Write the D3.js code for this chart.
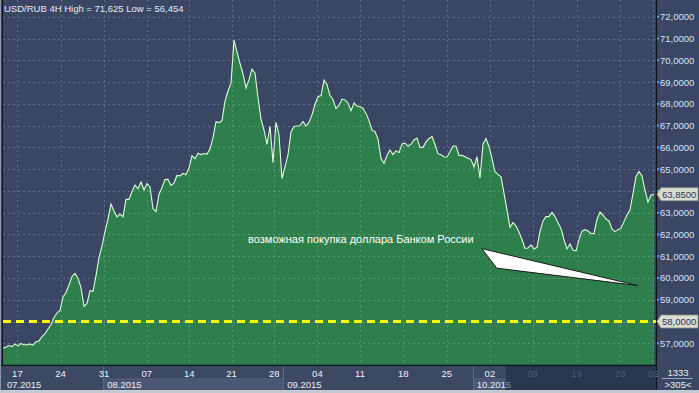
<!DOCTYPE html>
<html><head><meta charset="utf-8">
<script src="https://cdn.jsdelivr.net/npm/d3@7"></script>
<style>html,body{margin:0;padding:0;background:#3a4663;overflow:hidden}</style>
</head><body>
<svg id="chart" width="699" height="393"></svg>
<script>
// ---- data (USD/RUB, 4H, sampled every 2 bars) ----
const prices = [
56.77,56.83,56.90,56.85,56.97,56.88,56.99,56.92,56.94,56.97,56.92,57.07,57.11,57.31,57.44,57.66,57.86,58.19,58.39,58.51,
59.13,59.33,59.68,60.07,60.21,59.98,59.56,58.70,58.83,59.43,59.38,60.11,60.94,61.47,62.13,62.71,63.40,63.08,62.81,62.94,
62.82,63.61,63.61,63.97,64.27,64.10,64.41,64.04,64.34,64.18,63.19,63.05,63.85,64.16,64.52,64.53,64.25,64.36,64.71,64.69,
64.80,64.75,65.05,65.62,65.47,65.73,65.67,65.72,65.69,65.92,66.44,67.18,67.14,67.23,68.12,68.59,68.95,70.93,70.38,69.86,
69.37,68.73,69.11,69.59,69.42,68.29,67.30,66.80,66.14,66.97,65.30,67.15,66.58,64.57,65.11,65.65,66.71,66.96,66.98,66.99,
67.19,66.98,67.15,67.49,67.98,68.33,68.38,69.09,68.89,68.38,68.19,67.79,67.93,68.22,68.18,68.04,67.68,68.04,67.90,67.87,
67.79,67.56,67.23,66.79,66.72,66.38,65.49,65.27,65.64,65.88,65.67,65.85,65.76,66.16,66.20,66.06,66.15,66.34,66.43,66.00,
66.00,66.25,66.41,66.50,66.13,65.71,65.66,65.57,65.56,65.80,66.06,66.06,65.63,65.64,65.57,65.50,65.44,65.11,65.57,64.59,
66.16,66.41,66.04,65.49,64.88,64.76,64.65,63.89,63.12,62.33,62.54,62.39,62.11,61.77,61.36,61.38,61.52,61.33,61.41,62.13,
62.62,62.82,62.82,63.01,62.82,62.54,62.27,61.75,61.33,61.56,61.27,61.25,61.76,62.15,62.22,62.16,62.04,62.05,62.69,63.03,
62.89,62.71,62.62,62.25,62.13,62.22,62.29,62.59,62.91,63.12,63.88,64.66,64.89,64.69,64.04,63.49,63.81,63.85
];
const yTickValues = [57,58,59,60,61,62,63,64,65,66,67,68,69,70,71,72];
const dayLabels = ["17","24","31","07","14","21","28","04","11","18","25","02","09","19","23","02"];
const dayIndex  = [4.8,19.2,33.7,47.9,62.1,76.2,90.4,104.8,119,133.4,147.9,162.3,176.6,191.2,205.8,216.8];
const monthLabels = ["07.2015","08.2015","09.2015","10.2015"];
const monthStartIndex = [-1,33.4,93.4,156.6];
const shadedFromIndex = 167.6;           // dimmed part of the time scale
const supportLevel = 58;
const lastPrice = 63.85;
const titleText = "USD/RUB 4H High = 71,625 Low = 56,454";
const noteText = "возможная покупка доллара Банком России";
const noteAnchor = [81.7, 61.6];                                 // [index, price]
const arrowPoints = [[159.6,61.35],[164.6,60.45],[211.7,59.65]];
const footerTop = "1333", footerBottom = ">305<";

// ---- layout ----
const W = 699, H = 393;
const plot = {l:3, r:656, t:0, b:365};
const svg = d3.select("#chart");
const font = "'Liberation Sans', Arial, sans-serif";

const x = d3.scaleLinear().domain([0, prices.length-1]).range([3, 654]);
const y = d3.scaleLinear().domain([57, 72]).range([343.3, 16.75]);
const fmt = v => d3.format(".4f")(v).replace(".", ",");
const markers = [lastPrice, supportLevel];

// backgrounds
svg.append("rect").attr("width",W).attr("height",H).attr("fill","#3a4663");

svg.append("defs").append("clipPath").attr("id","clip")
  .append("rect").attr("x",plot.l).attr("y",0).attr("width",plot.r-plot.l).attr("height",plot.b);

const g = svg.append("g").attr("clip-path","url(#clip)");

// area + line
g.append("path").datum(prices)
  .attr("d", d3.area().x((d,i)=>x(i)).y0(plot.b).y1(d=>y(d)))
  .attr("fill","#2e7f4b");
g.append("path").datum(prices)
  .attr("d", d3.line().x((d,i)=>x(i)).y(d=>y(d)))
  .attr("fill","none").attr("stroke","#dcffd6").attr("stroke-width",1.1);

// grid
g.selectAll(".hg").data(yTickValues).join("line")
  .attr("x1",plot.l).attr("x2",plot.r)
  .attr("y1",d=>Math.round(y(d))+0.5).attr("y2",d=>Math.round(y(d))+0.5)
  .attr("stroke","rgba(175,195,230,0.32)").attr("stroke-dasharray","2,3");
g.selectAll(".vg").data(dayIndex).join("line")
  .attr("y1",0).attr("y2",plot.b)
  .attr("x1",d=>Math.round(x(d))+0.5).attr("x2",d=>Math.round(x(d))+0.5)
  .attr("stroke","rgba(175,195,230,0.32)").attr("stroke-dasharray","2,3");

// support level
g.append("line").attr("x1",plot.l).attr("x2",plot.r)
  .attr("y1",y(supportLevel)).attr("y2",y(supportLevel))
  .attr("stroke","#ffff00").attr("stroke-width",3).attr("stroke-dasharray","8,5");

// annotation
svg.append("text").attr("x",x(noteAnchor[0])).attr("y",y(noteAnchor[1]))
  .attr("fill","#ffffff").attr("font-family",font).attr("font-size",11).text(noteText);
svg.append("path")
  .attr("d", d3.line()(arrowPoints.map(p=>[x(p[0]),y(p[1])])) + "Z")
  .attr("fill","#ffffff").attr("stroke","#1a1a1a").attr("stroke-width",1);

// plot borders
svg.append("line").attr("x1",plot.l-0.5).attr("x2",plot.l-0.5).attr("y1",0).attr("y2",plot.b).attr("stroke","#10131a");
svg.append("line").attr("x1",plot.r+0.5).attr("x2",plot.r+0.5).attr("y1",0).attr("y2",390).attr("stroke","#10131a").attr("stroke-width",1.2);
svg.append("line").attr("x1",0).attr("x2",plot.r).attr("y1",plot.b+0.5).attr("y2",plot.b+0.5).attr("stroke","#10131a").attr("stroke-width",1.5);

// title
svg.append("text").attr("x",4).attr("y",12).attr("fill","#e6ecf5")
  .attr("font-family",font).attr("font-size",9.5).text(titleText);

// right axis (labels hidden where a price marker sits)
const ya = svg.append("g");
const visibleTicks = yTickValues.filter(v => markers.every(m => Math.abs(y(v)-y(m)) > 9));
ya.selectAll("text").data(visibleTicks).join("text")
  .attr("x",660).attr("y",d=>y(d)+3.5).attr("fill","#d4e4ff")
  .attr("font-family",font).attr("font-size",9.5).text(fmt);
ya.selectAll("rect").data(yTickValues).join("rect")
  .attr("x",657).attr("y",d=>y(d)-1).attr("width",2).attr("height",2).attr("fill","#5fa0e0");

function marker(v){
  const cy = y(v);
  ya.append("path")
    .attr("d",`M657,${cy} L661,${cy-6.5} L698,${cy-6.5} L698,${cy+6.5} L661,${cy+6.5} Z`)
    .attr("fill","#d9dccf").attr("stroke","#8c8f88").attr("stroke-width",0.8);
  ya.append("text").attr("x",662).attr("y",cy+3.5).attr("fill","#2a3350")
    .attr("font-family",font).attr("font-size",9.5).text(fmt(v));
}
markers.forEach(marker);

// bottom time axis
const xa = svg.append("g");
xa.append("rect").attr("x",0).attr("y",plot.b+1).attr("width",plot.r).attr("height",390-plot.b-1).attr("fill","#3d4862");
const monthEnd = monthStartIndex.slice(1).concat([shadedFromIndex]);
monthStartIndex.forEach((m,i)=>{
  const x0 = i===0 ? 0 : x(m), x1 = x(monthEnd[i]);
  if (i%2===1) xa.append("rect").attr("x",x0).attr("y",378).attr("width",x1-x0).attr("height",12).attr("fill","#4b5774");
  if (i>0) xa.append("line").attr("x1",Math.round(x0)+0.5).attr("x2",Math.round(x0)+0.5).attr("y1",plot.b+1).attr("y2",390).attr("stroke","#5d6986");
  xa.append("text").attr("x",(i===0?7:x0+4)).attr("y",388).attr("fill","#e8eef8")
    .attr("font-family",font).attr("font-size",9.5).text(monthLabels[i]);
});
xa.selectAll(".day").data(dayIndex).join("text")
  .attr("x",d=>x(d)).attr("y",377).attr("text-anchor","middle")
  .attr("fill",d=>d>=shadedFromIndex?"#7d8aa6":"#eef2fa")
  .attr("font-family",font).attr("font-size",9.5).text((d,i)=>dayLabels[i]);
xa.append("rect").attr("x",x(shadedFromIndex)).attr("y",plot.b+1)
  .attr("width",plot.r-x(shadedFromIndex)).attr("height",390-plot.b-1).attr("fill","rgba(20,30,55,0.45)");

// footer box
svg.append("rect").attr("x",plot.r+1).attr("y",plot.b+1).attr("width",W-plot.r-1).attr("height",390-plot.b-1).attr("fill","#3a4663");
svg.append("text").attr("x",678).attr("y",376).attr("text-anchor","middle").attr("fill","#e8eef8")
  .attr("font-family",font).attr("font-size",9.5).text(footerTop);
svg.append("line").attr("x1",662).attr("x2",693).attr("y1",378.5).attr("y2",378.5).attr("stroke","#9aa6bf");
svg.append("text").attr("x",678).attr("y",388).attr("text-anchor","middle").attr("fill","#e8eef8")
  .attr("font-family",font).attr("font-size",9.5).text(footerBottom);

// outer frame
svg.append("rect").attr("x",0).attr("y",390).attr("width",W).attr("height",3).attr("fill","#c4c8d0");
svg.append("rect").attr("x",0).attr("y",0).attr("width",1).attr("height",390).attr("fill","#8c96aa");
</script>
</body></html>
